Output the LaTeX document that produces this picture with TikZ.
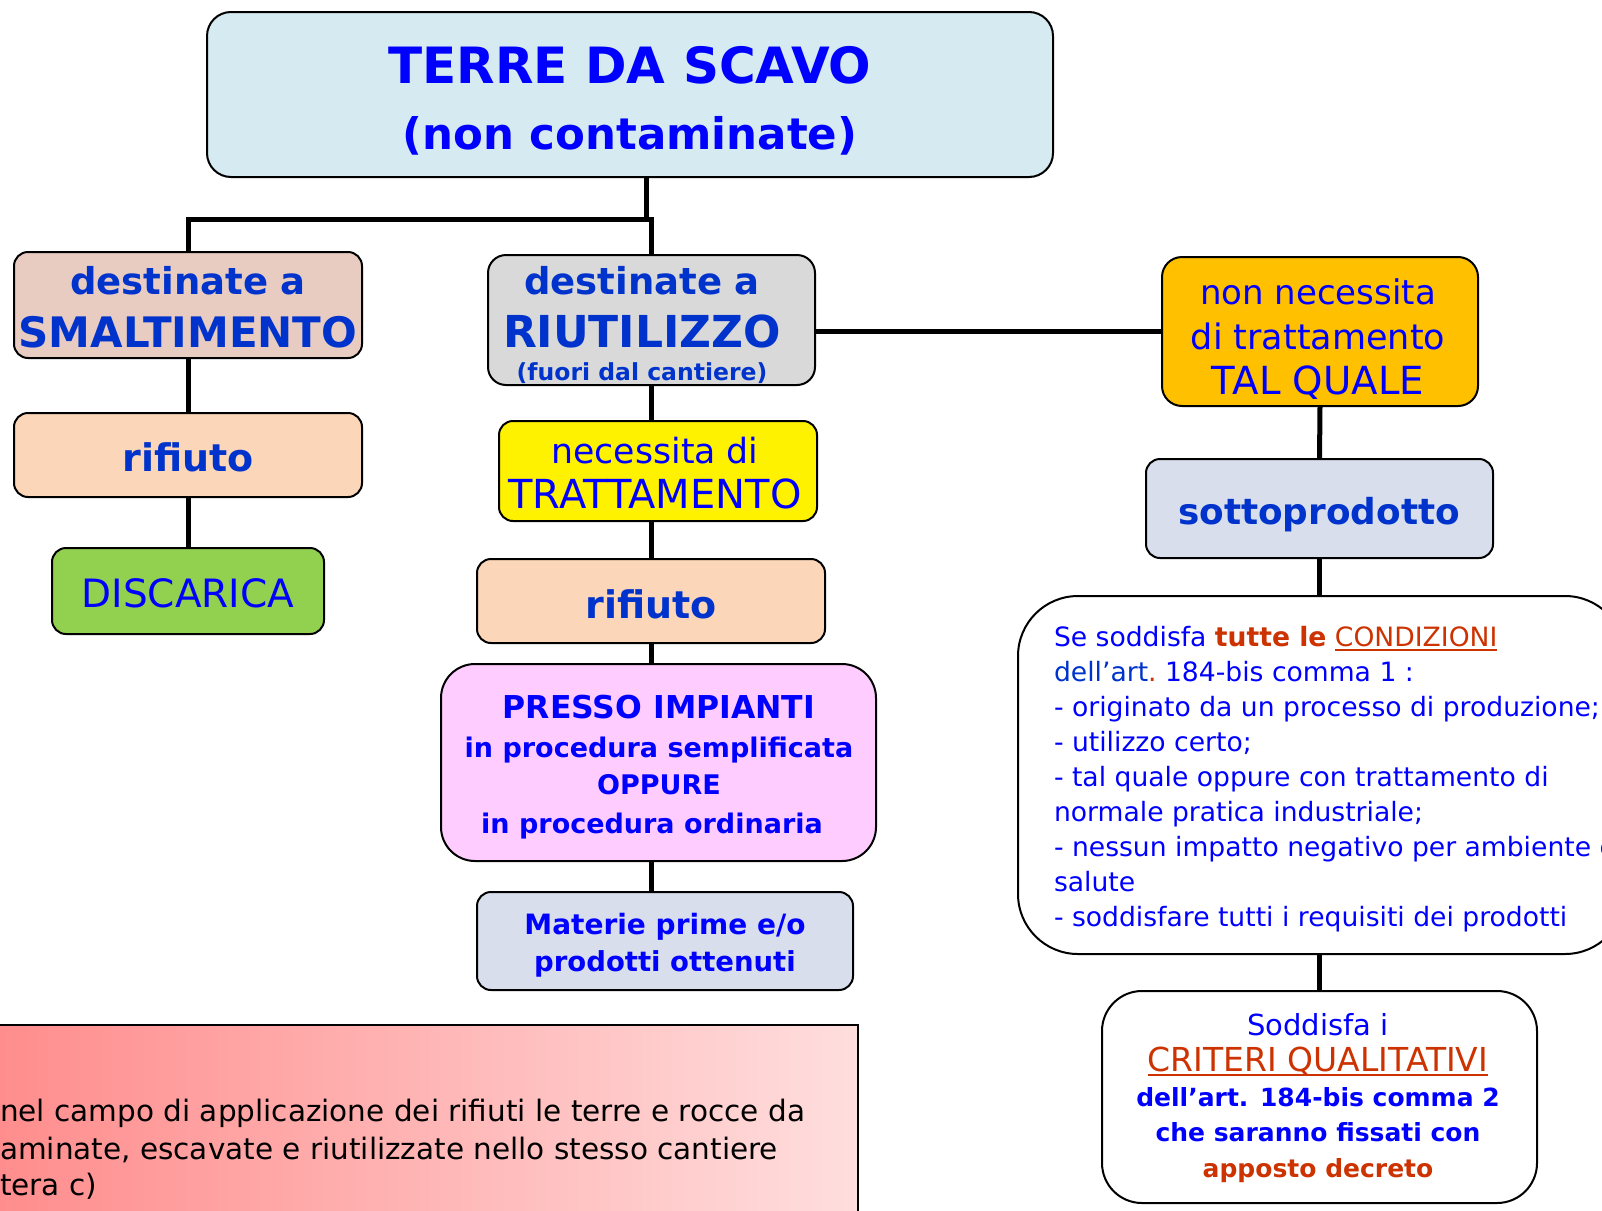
\documentclass[tikz,border=0pt]{standalone}
\usepackage{fontspec}
\setmainfont{DejaVu Sans}
\newcommand{\myul}[1]{\setbox0\hbox{#1}\leavevmode\rlap{\rule[-5pt]{\wd0}{2.4pt}}\box0}
\definecolor{blueA}{RGB}{0,0,255}
\definecolor{blueB}{RGB}{0,51,204}
\definecolor{orng}{RGB}{204,51,0}
\definecolor{cTop}{RGB}{214,234,241}
\definecolor{cSmal}{RGB}{232,204,194}
\definecolor{cGray}{RGB}{217,217,217}
\definecolor{cOrange}{RGB}{255,192,0}
\definecolor{cPeach}{RGB}{251,214,184}
\definecolor{cGreen}{RGB}{146,208,80}
\definecolor{cPink}{RGB}{255,204,255}
\definecolor{cLav}{RGB}{216,222,236}
\definecolor{noteL}{RGB}{255,140,140}
\definecolor{noteR}{RGB}{255,222,222}
\newcommand{\fsz}[1]{\fontsize{#1}{#1}\selectfont}
\begin{document}
\begin{tikzpicture}[x=1pt,y=-1pt,
  box/.style={draw=black,line width=2pt,rounded corners=14pt,inner sep=0pt,outer sep=0pt},
  conn/.style={line width=5pt},
  txt/.style={anchor=base,inner sep=0pt,outer sep=0pt},
  ltxt/.style={anchor=base west,inner sep=0pt,outer sep=0pt}]
\useasboundingbox (0,0) rectangle (1602,1210);
\clip (0,0) rectangle (1602,1210);

% boxes
\node[box,fill=cTop,rounded corners=24pt,minimum width=846pt,minimum height=165pt] (top) at (630,94.5) {};
\node[box,fill=cSmal,minimum width=348pt,minimum height=106pt] (smal) at (188,305) {};
\node[box,fill=cGray,rounded corners=18pt,minimum width=327pt,minimum height=130pt] (riut) at (651.5,320) {};
\node[box,fill=cOrange,rounded corners=20pt,minimum width=316pt,minimum height=149pt] (tal) at (1320,331.5) {};
\node[box,fill=cPeach,minimum width=348pt,minimum height=84pt] (rifL) at (188,455) {};
\node[box,fill=cGreen,minimum width=272pt,minimum height=86pt] (disc) at (188,591) {};
\node[box,fill=yellow,minimum width=318pt,minimum height=100pt] (nec) at (658,471) {};
\node[box,fill=cPeach,minimum width=348pt,minimum height=84pt] (rifC) at (651,601) {};
\node[box,fill=cPink,rounded corners=34pt,minimum width=435pt,minimum height=197pt] (pres) at (658.5,762.5) {};
\node[box,fill=cLav,minimum width=376pt,minimum height=98pt] (mat) at (665,941) {};
\node[box,fill=cLav,minimum width=347pt,minimum height=99pt] (sotto) at (1319.5,508.5) {};
\node[box,fill=white,rounded corners=60pt,minimum width=607pt,minimum height=358pt] (cond) at (1321.5,775) {};
\node[box,fill=white,rounded corners=40pt,minimum width=435pt,minimum height=212pt] (sodd) at (1319.5,1097) {};
\node[draw=black,line width=2pt,left color=noteL,right color=noteR,inner sep=0pt,minimum width=868pt,minimum height=205pt] (note) at (424,1127.5) {};

% connectors
\coordinate (j) at (646,219);
\draw[conn] (j |- top.south) -- (j);
\draw[conn] (smal.north) |- (j) -| (riut.north);
\draw[conn] (smal.south) -- (rifL.north);
\draw[conn] (rifL.south) -- (disc.north);
\draw[conn] (riut.south) -- (riut.south |- nec.north);
\draw[conn] (rifC.north |- nec.south) -- (rifC.north);
\draw[conn] (rifC.south) -- (rifC.south |- pres.north);
\draw[conn] (rifC.south |- pres.south) -- (rifC.south |- mat.north);
\draw[conn] (riut.east |- tal.west) -- (tal.west);
\draw[conn] (tal.south) -- (sotto.north);
\draw[conn] (sotto.south) -- (sotto.south |- cond.north);
\draw[conn] (sodd.north |- cond.south) -- (sodd.north);

% texts
\node[txt,text=blueA,font=\fsz{50}\bfseries] (t1) at (630,83) {TERRE DA SCAVO};
\node[txt,text=blueA,font=\fsz{43.5}\bfseries] (t2) at (630,149) {(non contaminate)};

\node[txt,text=blueB,font=\fsz{37}\bfseries] (s1) at (188,294) {destinate a};
\node[txt,text=blueB,font=\fsz{42}\bfseries] (s2) at (188,347) {SMALTIMENTO};

\node[txt,text=blueB,font=\fsz{37}\bfseries] (r1) at (642,294) {destinate a};
\node[txt,text=blueB,font=\fsz{44}\bfseries] (r2) at (642,347) {RIUTILIZZO};
\node[txt,text=blueB,font=\fsz{23.5}\bfseries] (r3) at (642,380) {(fuori dal cantiere)};

\node[txt,text=blueA,font=\fsz{34}] (q1) at (1318,304) {non necessita};
\node[txt,text=blueA,font=\fsz{35}] (q2) at (1318,349) {di trattamento};
\node[txt,text=blueA,font=\fsz{38.7}] (q3) at (1318,394) {TAL QUALE};

\node[txt,text=blueB,font=\fsz{38}\bfseries] (l1) at (188,471) {rifiuto};
\node[txt,text=blueA,font=\fsz{39}] (d1) at (188,607) {DISCARICA};

\node[txt,text=blueA,font=\fsz{34.7}] (n1) at (655,463) {necessita di};
\node[txt,text=blueA,font=\fsz{40}] (n2) at (655,508) {TRATTAMENTO};

\node[txt,text=blueB,font=\fsz{38}\bfseries] (c1) at (651,618) {rifiuto};

\node[txt,text=blueA,font=\fsz{31.5}\bfseries] (p1) at (659,718) {PRESSO IMPIANTI};
\node[txt,text=blueA,font=\fsz{27}\bfseries] (p2) at (659,757) {in procedura semplificata};
\node[txt,text=blueA,font=\fsz{27}\bfseries] (p3) at (659,794) {OPPURE};
\node[txt,text=blueA,font=\fsz{27}\bfseries] (p4) at (652,833) {in procedura ordinaria};

\node[txt,text=blueA,font=\fsz{28}\bfseries] (m1) at (665,934) {Materie prime e/o};
\node[txt,text=blueA,font=\fsz{27.5}\bfseries] (m2) at (665,971) {prodotti ottenuti};

\node[txt,text=blueB,font=\fsz{35.8}\bfseries] (o1) at (1319,524) {sottoprodotto};

\node[ltxt,font=\fsz{26.6}] (k1) at (1054,646) {\textcolor{blueA}{Se soddisfa} \textcolor{orng}{\textbf{tutte le} \myul{CONDIZIONI}}};
\node[ltxt,font=\fsz{26.6}] (k2) at (1054,681) {\textcolor{blueB}{dell’art}\textcolor{orng}{.}\ \textcolor{blueA}{184-bis comma 1 :}};
\node[ltxt,text=blueA,font=\fsz{26.6}] (k3) at (1054,716) {- originato da un processo di produzione;};
\node[ltxt,text=blueA,font=\fsz{26.6}] (k4) at (1054,751) {- utilizzo certo;};
\node[ltxt,text=blueA,font=\fsz{26.6}] (k5) at (1054,786) {- tal quale oppure con trattamento di};
\node[ltxt,text=blueA,font=\fsz{26.6}] (k6) at (1054,821) {normale pratica industriale;};
\node[ltxt,text=blueA,font=\fsz{26.6}] (k7) at (1054,856) {- nessun impatto negativo per ambiente e};
\node[ltxt,text=blueA,font=\fsz{26.6}] (k8) at (1054,891) {salute};
\node[ltxt,text=blueA,font=\fsz{26.6}] (k9) at (1054,926) {- soddisfare tutti i requisiti dei prodotti};

\node[txt,text=blueA,font=\fsz{29}] (e1) at (1318,1035) {Soddisfa i};
\node[txt,text=orng,font=\fsz{33}] (e2) at (1318,1071) {\myul{CRITERI QUALITATIVI}};
\node[txt,text=blueA,font=\fsz{25}\bfseries] (e3) at (1318,1106) {dell’art. 184-bis comma 2};
\node[txt,text=blueA,font=\fsz{25}\bfseries] (e4) at (1318,1141) {che saranno fissati con};
\node[txt,text=orng,font=\fsz{25}\bfseries] (e5) at (1318,1177) {apposto decreto};

\node[ltxt,text=black,font=\fsz{29.5}] (w1) at (0,1121) {nel campo di applicazione dei rifiuti le terre e rocce da};
\node[ltxt,text=black,font=\fsz{29.5}] (w2) at (0,1159) {aminate, escavate e riutilizzate nello stesso cantiere};
\node[ltxt,text=black,font=\fsz{29.5}] (w3) at (0,1195) {tera c)};
\end{tikzpicture}
\end{document}
